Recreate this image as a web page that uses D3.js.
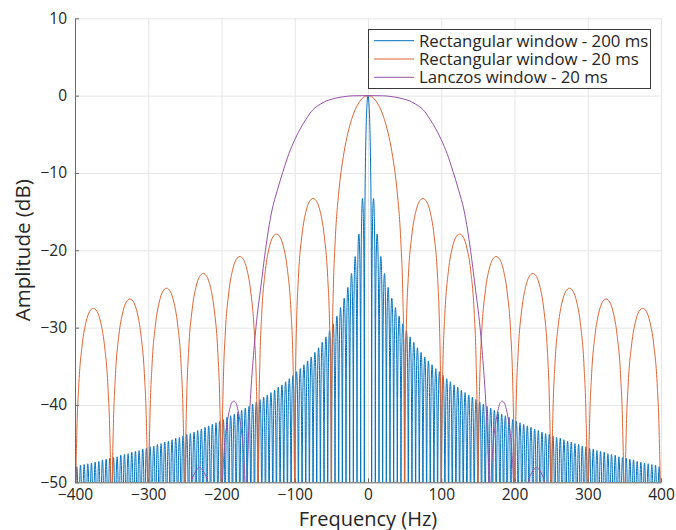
<!DOCTYPE html>
<html>
<head>
<meta charset="utf-8">
<script src="https://cdn.jsdelivr.net/npm/d3@7"></script>
<style>
  body { margin: 0; background: #fff; }
  svg { display: block; }
  text { font-family: "Open Sans", "Noto Sans", sans-serif; fill: #262626; }
</style>
</head>
<body>
<svg id="chart" width="676" height="530"></svg>
<script>
// ---- Axis ticks ----
const xTicks = [-400, -300, -200, -100, 0, 100, 200, 300, 400];
const yTicks = [-50, -40, -30, -20, -10, 0, 10];

// ---- Rectangular window, 200 ms ----
// zeros every 5 Hz; sidelobe peak level (dB) of lobe k = 1..79 (positive side, mirrored)
const rect200Spacing = 5;
const rect200Peaks = [
  -13.3, -17.9, -20.8, -23.0, -24.8, -26.2, -27.4, -28.5, -29.5, -30.4,
  -31.2, -31.9, -32.6, -33.2, -33.8, -34.3, -34.8, -35.3, -35.7, -36.2,
  -36.6, -37.0, -37.4, -37.7, -38.1, -38.4, -38.7, -39.0, -39.3, -39.6,
  -39.9, -40.2, -40.4, -40.7, -40.9, -41.2, -41.4, -41.6, -41.9, -42.1,
  -42.3, -42.5, -42.7, -42.9, -43.1, -43.3, -43.5, -43.7, -43.8, -44.0,
  -44.2, -44.3, -44.5, -44.7, -44.8, -45.0, -45.1, -45.3, -45.4, -45.6,
  -45.7, -45.9, -46.0, -46.1, -46.3, -46.4, -46.5, -46.7, -46.8, -46.9,
  -47.0, -47.1, -47.3, -47.4, -47.5, -47.6, -47.7, -47.8, -48.0
];

// ---- Rectangular window, 20 ms ----
// zeros every 50 Hz; sidelobe peak levels (dB)
const rect20Spacing = 50;
const rect20Peaks = [-13.3, -17.9, -20.8, -23.0, -24.9, -26.3, -27.5];

// ---- Lanczos window, 20 ms (positive half, mirrored) ----
const lanczosFreq = [
  0, 20, 34, 45, 56, 65, 75, 85, 92, 100, 108, 116, 124, 131, 136, 140,
  146, 153, 157.5, 161, 163.5, 165, 166.5,
  168, 170.5, 174, 177.5, 180, 183, 186, 189, 192.5, 196, 198.5, 200, 201,
  207, 212, 218, 224, 230, 236, 242, 248, 254, 259
];
const lanczosDb = [
  0, -0.02, -0.15, -0.35, -0.65, -1.1, -1.8, -3.1, -4.2, -5.7, -7.5, -9.8, -12.3, -14.8, -17.4, -20,
  -24.5, -30, -35, -40, -45, -50, -80,
  -50, -45.5, -42.5, -40.7, -39.8, -39.5, -39.7, -40.6, -42.5, -45.5, -50, -56, -80,
  -60, -54, -50.2, -48.7, -48.1, -48.7, -50.2, -53, -58, -80
];

// Sidelobe profile relative to its peak, across one lobe (0 = zero, 1 = next zero)
const lobePos = [0, 0.005, 0.01, 0.02, 0.05, 0.1, 0.2, 0.3, 0.4, 0.5, 0.6, 0.7, 0.8, 0.9, 0.95, 0.98, 0.99, 0.995, 1];
const lobeRel = [-80, -36.1, -30.1, -24.0, -16.1, -10.2, -4.6, -1.8, -0.4, 0, -0.4, -1.8, -4.6, -10.2, -16.1, -24.0, -30.1, -36.1, -80];
// Main-lobe profile from the centre (0) to the first zero (1)
const mainPos = [0, 0.1, 0.2, 0.3, 0.4, 0.5, 0.6, 0.7, 0.8, 0.9, 0.95, 0.98, 0.99, 1];
const mainRel = [0, -0.14, -0.58, -1.33, -2.42, -3.92, -5.94, -8.68, -12.6, -19.2, -25.6, -33.8, -39.9, -80];

const seriesNames = ["Rectangular window - 200 ms", "Rectangular window - 20 ms", "Lanczos window - 20 ms"];
const seriesColors = ["#0072BD", "#DD6533", "#9552A6"];

// ---- Build spectra ----
function mirror(half) {
  const neg = half.slice(1).reverse().map(([f, v]) => [-f, v]);
  return neg.concat(half);
}
function rectSpectrum(spacing, peaks) {
  const half = mainPos.map((t, i) => [t * spacing, mainRel[i]]);
  peaks.forEach((p, k) => {
    const start = (k + 1) * spacing;
    lobePos.forEach((t, j) => {
      if (j === 0) return;
      half.push([start + t * spacing, p + lobeRel[j]]);
    });
  });
  return mirror(half);
}
const spectra = [
  rectSpectrum(rect200Spacing, rect200Peaks),
  rectSpectrum(rect20Spacing, rect20Peaks),
  mirror(lanczosFreq.map((f, i) => [f, lanczosDb[i]]))
];

// ---- Layout ----
const svg = d3.select("#chart");
const m = { left: 75, right: 15, top: 18.3, bottom: 47.7 };
const W = 676, H = 530;
const x = d3.scaleLinear().domain([-400, 400]).range([m.left, W - m.right]);
const y = d3.scaleLinear().domain([-50, 10]).range([H - m.bottom, m.top]);

// grid
svg.append("g").attr("transform", `translate(0,${m.top})`)
  .call(d3.axisBottom(x).tickValues(xTicks).tickSize(y(-50) - m.top).tickFormat(""))
  .call(g => g.select(".domain").remove())
  .call(g => g.selectAll("line").attr("stroke", "#e6e6e6"));
svg.append("g").attr("transform", `translate(${m.left},0)`)
  .call(d3.axisRight(y).tickValues(yTicks).tickSize(x(400) - m.left).tickFormat(""))
  .call(g => g.select(".domain").remove())
  .call(g => g.selectAll("line").attr("stroke", "#e6e6e6"));

// curves
svg.append("clipPath").attr("id", "plot-clip")
  .append("rect").attr("x", m.left).attr("y", m.top)
  .attr("width", x(400) - m.left).attr("height", y(-50) - m.top);

const line = d3.line().x(d => x(d[0])).y(d => y(d[1])).curve(d3.curveMonotoneX);
const plot = svg.append("g").attr("clip-path", "url(#plot-clip)");
spectra.forEach((s, i) => {
  plot.append("path").datum(s)
    .attr("fill", "none")
    .attr("stroke", seriesColors[i])
    .attr("stroke-width", 1)
    .attr("stroke-linejoin", "round")
    .attr("d", line);
});

// axes
const yAxis = svg.append("g").attr("transform", `translate(${m.left},0)`)
  .call(d3.axisLeft(y).tickValues(yTicks).tickSizeInner(-4).tickSizeOuter(0).tickPadding(8));
const xAxis = svg.append("g").attr("transform", `translate(0,${y(-50)})`)
  .call(d3.axisBottom(x).tickValues(xTicks).tickSizeInner(-4).tickSizeOuter(0).tickPadding(6.5));
[yAxis, xAxis].forEach(a => {
  a.select(".domain").attr("stroke", "#6b6b6b");
  a.selectAll(".tick line").attr("stroke", "#6b6b6b");
  a.selectAll("text").attr("font-size", 15.5).attr("fill", "#262626")
    .attr("font-family", "'Open Sans', 'Noto Sans', sans-serif");
});

// axis titles
svg.append("text").attr("x", x(0)).attr("y", 525.5)
  .attr("text-anchor", "middle").attr("font-size", 20).text("Frequency (Hz)");
svg.append("text").attr("transform", `translate(30,${y(-20)}) rotate(-90)`)
  .attr("text-anchor", "middle").attr("font-size", 20.5).text("Amplitude (dB)");

// legend
const lg = svg.append("g");
lg.append("rect").attr("x", 368.5).attr("y", 29.5).attr("width", 282).attr("height", 59)
  .attr("fill", "#fff").attr("stroke", "#3a3a3a").attr("stroke-width", 1);
seriesNames.forEach((name, i) => {
  const yy = 40.7 + i * 18.3;
  lg.append("line").attr("x1", 374).attr("x2", 414).attr("y1", yy).attr("y2", yy)
    .attr("stroke", seriesColors[i]).attr("stroke-width", 1);
  lg.append("text").attr("x", 419).attr("y", yy + 5.8).attr("font-size", 16.8).text(name);
});
</script>
</body>
</html>
